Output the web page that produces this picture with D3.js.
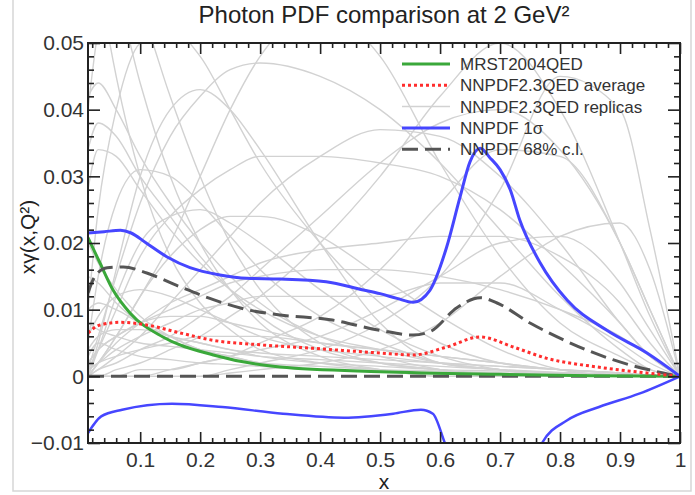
<!DOCTYPE html>
<html>
<head>
<meta charset="utf-8">
<script src="https://cdn.jsdelivr.net/npm/d3@7"></script>
<style>
  body { margin: 0; background: #fff; }
  text { font-family: "Liberation Sans", Arial, Helvetica, sans-serif; }
</style>
</head>
<body>
<div id="chart"></div>
<script>
// shared x grid for the replica curves
var repX = [0.013, 0.03, 0.06, 0.1, 0.15, 0.2, 0.25, 0.3, 0.4, 0.5, 0.6, 0.7, 0.8, 0.9, 0.95, 1.0];
var replicas = [
  [0.004,0.006,0.007,0.007,0.006,0.005,0.004,0.0035,0.003,0.0025,0.002,0.0015,0.001,0.0005,0.0002,0],
  [0.010,0.011,0.010,0.008,0.006,0.005,0.004,0.003,0.002,0.0015,0.001,0.0008,0.0005,0.0002,0.0001,0],
  [0.002,0.004,0.006,0.008,0.009,0.009,0.008,0.007,0.005,0.004,0.003,0.002,0.001,0.0005,0.0002,0],
  [0.015,0.014,0.011,0.008,0.006,0.004,0.003,0.002,0.0015,0.001,0.0008,0.0005,0.0003,0.0001,0,0],
  [0.001,0.002,0.003,0.004,0.005,0.006,0.006,0.006,0.005,0.004,0.003,0.002,0.001,0.0005,0.0002,0],
  [0.020,0.017,0.013,0.009,0.006,0.004,0.003,0.002,0.001,0.0008,0.0005,0.0003,0.0002,0,0,0],
  [0.006,0.009,0.012,0.013,0.012,0.010,0.008,0.006,0.004,0.003,0.002,0.0015,0.001,0.0005,0.0002,0],
  [0.003,0.005,0.004,0.003,0.0025,0.002,0.0018,0.0015,0.001,0.0008,0.0006,0.0004,0.0002,0.0001,0,0],
  [0.008,0.007,0.006,0.005,0.0045,0.004,0.0035,0.003,0.0025,0.002,0.0015,0.001,0.0006,0.0003,0.0001,0],
  [0.028,0.034,0.033,0.028,0.022,0.017,0.013,0.010,0.006,0.004,0.002,0.001,0.0005,0.0002,0.0001,0],
  [0.034,0.038,0.036,0.030,0.024,0.018,0.013,0.009,0.004,0.002,0.001,0,0,0,0,0],
  [0.070,0.060,0.045,0.030,0.018,0.011,0.007,0.004,0.002,0.001,0,0,0,0,0,0],
  [0.055,0.065,0.058,0.044,0.030,0.020,0.013,0.008,0.003,0.001,0,0,0,0,0,0],
  [0.040,0.052,0.060,0.055,0.042,0.030,0.020,0.013,0.005,0.002,0.001,0,0,0,0,0],
  [0.005,0.015,0.026,0.031,0.030,0.026,0.021,0.016,0.009,0.005,0.002,0.001,0,0,0,0],
  [0.042,0.044,0.040,0.033,0.026,0.020,0.015,0.011,0.006,0.003,0.001,0,0,0,0,0],
  [0.001,0.006,0.015,0.026,0.036,0.042,0.046,0.047,0.045,0.040,0.032,0.022,0.012,0.004,0.001,0],
  [0.000,0.005,0.016,0.030,0.040,0.043,0.040,0.034,0.020,0.008,0.002,0.001,0,0,0,0],
  [0.000,0.001,0.003,0.006,0.011,0.016,0.021,0.026,0.033,0.037,0.036,0.030,0.020,0.008,0.003,0],
  [0.001,0.004,0.010,0.018,0.024,0.028,0.031,0.033,0.033,0.032,0.030,0.025,0.017,0.008,0.003,0],
  [0.000,0.004,0.012,0.020,0.024,0.025,0.023,0.020,0.013,0.007,0.003,0.001,0,0,0,0],
  [0.000,0.002,0.006,0.012,0.018,0.022,0.024,0.024,0.021,0.015,0.009,0.004,0.001,0,0,0],
  [0.000,0.000,0.001,0.002,0.004,0.006,0.009,0.012,0.020,0.030,0.042,0.050,0.040,0.020,0.009,0],
  [0.000,0.001,0.002,0.004,0.006,0.009,0.012,0.016,0.024,0.032,0.038,0.040,0.034,0.020,0.010,0],
  [0,0,0,0,0,0,0.0005,0.001,0.002,0.004,0.008,0.015,0.021,0.023,0.016,0],
  [0,0,0,0.001,0.001,0.002,0.003,0.004,0.006,0.010,0.015,0.020,0.021,0.014,0.007,0],
  [0.000,0.002,0.005,0.008,0.011,0.013,0.015,0.017,0.019,0.020,0.021,0.021,0.018,0.011,0.005,0],
  [0.010,0.025,0.040,0.050,0.052,0.048,0.040,0.032,0.020,0.011,0.005,0.002,0.001,0,0,0],
  [0,0.002,0.006,0.012,0.020,0.030,0.040,0.048,0.055,0.048,0.032,0.018,0.008,0.003,0.001,0],
  [0.002,0.004,0.006,0.008,0.010,0.012,0.014,0.015,0.016,0.016,0.015,0.013,0.010,0.006,0.003,0],
  [0.001,0.002,0.004,0.006,0.008,0.010,0.011,0.012,0.012,0.012,0.014,0.014,0.010,0.005,0.002,0],
  [0,0,0,0,0.001,0.002,0.003,0.005,0.009,0.016,0.026,0.034,0.033,0.020,0.010,0],
  [0,0,0,0,0,0,0.001,0.002,0.004,0.008,0.015,0.028,0.045,0.040,0.022,0]
];

var mrstX = [0.013, 0.033, 0.055, 0.083, 0.138, 0.222, 0.333, 0.5, 0.7, 0.85, 1.0];
var mrstY = [0.0208, 0.0170, 0.0129, 0.0095, 0.0059, 0.0032, 0.0014, 0.0007, 0.0003, 0.0001, 0];

var avgX = [0.013, 0.033, 0.067, 0.111, 0.167, 0.222, 0.305, 0.388, 0.5, 0.555, 0.611, 0.667, 0.722, 0.778, 0.862, 0.945, 1.0];
var avgY = [0.0065, 0.0077, 0.0081, 0.0077, 0.0065, 0.0054, 0.0047, 0.0042, 0.0035, 0.0032, 0.0044, 0.0059, 0.0044, 0.0027, 0.0014, 0.0005, 0];

var sigUpX = [0.013, 0.04, 0.067, 0.085, 0.11, 0.145, 0.183, 0.233, 0.278, 0.333, 0.41, 0.47, 0.5, 0.528, 0.555, 0.583, 0.611, 0.633, 0.65, 0.667, 0.683, 0.70, 0.717, 0.733, 0.767, 0.812, 0.878, 0.945, 1.0];
var sigUpY = [0.0215, 0.0217, 0.0219, 0.0215, 0.0200, 0.0179, 0.0163, 0.0152, 0.0147, 0.0146, 0.0142, 0.0130, 0.0124, 0.0117, 0.0111, 0.0129, 0.0194, 0.0268, 0.0322, 0.0342, 0.0328, 0.0310, 0.0280, 0.0234, 0.0170, 0.0114, 0.0069, 0.0035, 0];

var sigDnX = [0.013, 0.035, 0.07, 0.153, 0.237, 0.338, 0.44, 0.522, 0.568, 0.588, 0.608, 0.63, 0.69, 0.75, 0.77, 0.812, 0.865, 0.932, 1.0];
var sigDnY = [-0.0085, -0.0060, -0.0050, -0.0041, -0.0046, -0.0056, -0.0062, -0.0056, -0.0050, -0.0056, -0.0100, -0.0150, -0.0200, -0.0140, -0.0100, -0.0066, -0.0046, -0.0026, 0];

var clUpX = [0.013, 0.024, 0.045, 0.072, 0.111, 0.167, 0.222, 0.278, 0.333, 0.417, 0.5, 0.555, 0.583, 0.628, 0.667, 0.695, 0.75, 0.805, 0.888, 0.972, 1.0];
var clUpY = [0.0125, 0.0149, 0.0163, 0.0164, 0.0155, 0.0134, 0.0115, 0.0100, 0.0092, 0.0085, 0.0069, 0.0062, 0.0067, 0.0103, 0.0118, 0.0110, 0.0080, 0.0055, 0.0025, 0.0005, 0];
var clDnX = [0.013, 1.0];
var clDnY = [0, 0];

var xTicks = [0.1, 0.2, 0.3, 0.4, 0.5, 0.6, 0.7, 0.8, 0.9, 1];
var xMinorTicks = [0.02, 0.04, 0.06, 0.08, 0.12, 0.14, 0.16, 0.18, 0.22, 0.24, 0.26, 0.28, 0.32, 0.34, 0.36, 0.38,
                   0.42, 0.44, 0.46, 0.48, 0.52, 0.54, 0.56, 0.58, 0.62, 0.64, 0.66, 0.68, 0.72, 0.74, 0.76, 0.78,
                   0.82, 0.84, 0.86, 0.88, 0.92, 0.94, 0.96, 0.98];
var yTicks = [-0.01, 0, 0.01, 0.02, 0.03, 0.04, 0.05];
var yMinorTicks = [-0.008, -0.006, -0.004, -0.002, 0.002, 0.004, 0.006, 0.008, 0.012, 0.014, 0.016, 0.018,
                   0.022, 0.024, 0.026, 0.028, 0.032, 0.034, 0.036, 0.038, 0.042, 0.044, 0.046, 0.048];
var legendNames = ["MRST2004QED", "NNPDF2.3QED average", "NNPDF2.3QED replicas", "NNPDF 1\u03c3", "NNPDF 68% c.l."];

function main() {
    var width = 695, height = 495;
    var left = 88, right = 680, top = 43, bottom = 443;

    var svg = d3.select("#chart").append("svg")
                .attr("width", width).attr("height", height);

    // light frame of the original slide
    svg.append("rect").attr("x", 13).attr("y", -5).attr("width", 678).attr("height", 496)
       .attr("fill", "none").attr("stroke", "#d6d6d6").attr("stroke-width", 1.5);

    var x = d3.scaleLinear().domain([0.013, 1]).range([left, right]);
    var y = d3.scaleLinear().domain([-0.01, 0.05]).range([bottom, top]);

    svg.append("clipPath").attr("id", "clip").append("rect")
       .attr("x", left).attr("y", top).attr("width", right - left).attr("height", bottom - top);

    var line = d3.line().x(function(d){return x(d[0]);}).y(function(d){return y(d[1]);})
                 .curve(d3.curveMonotoneX);
    function pts(xs, ys) { return xs.map(function(v, i){return [v, ys[i]];}); }

    var plot = svg.append("g").attr("clip-path", "url(#clip)");

    plot.selectAll(".rep").data(replicas).enter().append("path")
        .attr("d", function(d){return line(pts(repX, d));})
        .attr("fill", "none").attr("stroke", "#d2d2d2").attr("stroke-width", 1.4);

    plot.append("path").attr("d", line(pts(clDnX, clDnY)))
        .attr("fill", "none").attr("stroke", "#555").attr("stroke-width", 3).attr("stroke-dasharray", "16,7");
    plot.append("path").attr("d", line(pts(mrstX, mrstY)))
        .attr("fill", "none").attr("stroke", "#3aa83a").attr("stroke-width", 3);
    plot.append("path").attr("d", line(pts(clUpX, clUpY)))
        .attr("fill", "none").attr("stroke", "#555").attr("stroke-width", 3).attr("stroke-dasharray", "16,7");
    plot.append("path").attr("d", line(pts(avgX, avgY)))
        .attr("fill", "none").attr("stroke", "#ff2d2d").attr("stroke-width", 3).attr("stroke-dasharray", "3,3");
    plot.append("path").attr("d", line(pts(sigUpX, sigUpY)))
        .attr("fill", "none").attr("stroke", "#4646ff").attr("stroke-width", 3);
    plot.append("path").attr("d", line(pts(sigDnX, sigDnY)))
        .attr("fill", "none").attr("stroke", "#4646ff").attr("stroke-width", 2.5);

    // ticks point inward, on all four sides (ROOT style)
    function styleAxis(g) {
        g.select(".domain").remove();
        g.selectAll(".tick line").attr("stroke", "#222").attr("stroke-width", 1.6);
        g.selectAll(".tick text").attr("font-size", 21).attr("fill", "#333")
         .attr("font-family", "Liberation Sans, Arial, sans-serif");
    }
    var noLabel = function(){ return ""; };
    svg.append("g").attr("transform", "translate(0," + bottom + ")")
       .call(d3.axisBottom(x).tickValues(xMinorTicks).tickSize(-5).tickFormat(noLabel)).call(styleAxis);
    svg.append("g").attr("transform", "translate(0," + bottom + ")")
       .call(d3.axisBottom(x).tickValues(xTicks).tickSize(-11).tickPadding(9).tickFormat(d3.format(""))).call(styleAxis);
    svg.append("g").attr("transform", "translate(0," + top + ")")
       .call(d3.axisTop(x).tickValues(xMinorTicks).tickSize(-5).tickFormat(noLabel)).call(styleAxis);
    svg.append("g").attr("transform", "translate(0," + top + ")")
       .call(d3.axisTop(x).tickValues(xTicks).tickSize(-11).tickFormat(noLabel)).call(styleAxis);
    svg.append("g").attr("transform", "translate(" + left + ",0)")
       .call(d3.axisLeft(y).tickValues(yMinorTicks).tickSize(-6).tickFormat(noLabel)).call(styleAxis);
    svg.append("g").attr("transform", "translate(" + left + ",0)")
       .call(d3.axisLeft(y).tickValues(yTicks).tickSize(-12).tickPadding(4)
       .tickFormat(function(d){return d === 0 ? "0" : d3.format("")(d);})).call(styleAxis);
    svg.append("g").attr("transform", "translate(" + right + ",0)")
       .call(d3.axisRight(y).tickValues(yMinorTicks).tickSize(-6).tickFormat(noLabel)).call(styleAxis);
    svg.append("g").attr("transform", "translate(" + right + ",0)")
       .call(d3.axisRight(y).tickValues(yTicks).tickSize(-12).tickFormat(noLabel)).call(styleAxis);

    svg.append("rect").attr("x", left).attr("y", top).attr("width", right - left).attr("height", bottom - top)
       .attr("fill", "none").attr("stroke", "#222").attr("stroke-width", 2);

    svg.append("text").attr("x", 384).attr("y", 489).attr("text-anchor", "middle")
       .attr("font-size", 21).attr("fill", "#222").text("x");
    svg.append("text").attr("transform", "translate(35,237) rotate(-90)").attr("text-anchor", "middle")
       .attr("font-size", 21).attr("fill", "#222").text("x\u03b3(x,Q\u00b2)");
    svg.append("text").attr("x", 384).attr("y", 23).attr("text-anchor", "middle")
       .attr("font-size", 24).attr("fill", "#222").text("Photon PDF comparison at 2 GeV\u00b2");

    // legend
    var styles = [
        {stroke: "#3aa83a", width: 3, dash: null},
        {stroke: "#ff2d2d", width: 3, dash: "3,3"},
        {stroke: "#d2d2d2", width: 1.5, dash: null},
        {stroke: "#4646ff", width: 3, dash: null},
        {stroke: "#555", width: 3, dash: "16,7"}
    ];
    var legend = svg.append("g").selectAll(".legends").data(legendNames).enter().append("g")
                    .attr("transform", function(d, i){return "translate(0," + (64 + i * 21.3) + ")";});
    legend.append("line").attr("x1", 402).attr("x2", 450).attr("y1", 0).attr("y2", 0)
          .attr("stroke", function(d, i){return styles[i].stroke;})
          .attr("stroke-width", function(d, i){return styles[i].width;})
          .attr("stroke-dasharray", function(d, i){return styles[i].dash;});
    legend.append("text").attr("x", 460).attr("y", 6).attr("font-size", 17).attr("fill", "#333")
          .text(function(d){return d;});
}
main();
</script>
</body>
</html>
